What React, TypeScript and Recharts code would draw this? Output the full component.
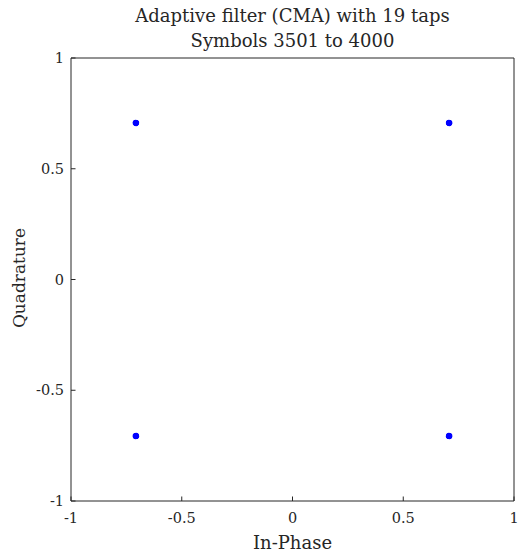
import { ScatterChart, Scatter, XAxis, YAxis, ReferenceLine } from 'recharts'

// received symbols after equalisation, grouped by constellation point
const inPhase = [
  -0.707, -0.709, -0.705, -0.708, -0.706,
  0.707, 0.709, 0.705, 0.708, 0.706,
  -0.707, -0.708, -0.706, -0.709, -0.705,
  0.707, 0.706, 0.708, 0.705, 0.709,
]
const quadrature = [
  0.707, 0.706, 0.708, 0.709, 0.705,
  0.707, 0.708, 0.706, 0.705, 0.709,
  -0.707, -0.709, -0.705, -0.706, -0.708,
  -0.707, -0.705, -0.709, -0.708, -0.706,
]
const ticks = [-1, -0.5, 0, 0.5, 1]

const points = inPhase.map((x, i) => ({ x, y: quadrature[i] }))

const INK = '#262626'
const FONT = 'DejaVu Serif'
const TICK_LEN = 4.5

const fmt = (v: number) => String(v)

function BottomTick({ x, y, payload }: any) {
  return (
    <g>
      <line x1={x} x2={x} y1={y} y2={y - TICK_LEN} stroke={INK} />
      <text x={x} y={y + 22} textAnchor="middle" fill={INK} fontSize={14.5} fontFamily={FONT}>
        {fmt(payload.value)}
      </text>
    </g>
  )
}

function LeftTick({ x, y, payload }: any) {
  return (
    <g>
      <line x1={x} x2={x + TICK_LEN} y1={y} y2={y} stroke={INK} />
      <text x={x - 7} y={y + 5} textAnchor="end" fill={INK} fontSize={14.5} fontFamily={FONT}>
        {fmt(payload.value)}
      </text>
    </g>
  )
}

const Dot = ({ cx, cy }: any) => <circle cx={cx} cy={cy} r={2.8} fill="#0000ff" />

export default function App() {
  return (
    <div style={{ position: 'absolute', left: 0, top: 0, width: 519, height: 552, background: '#fff' }}>
      <div style={{ position: 'absolute', left: 71, width: 443, top: 3, textAlign: 'center', fontFamily: FONT, fontSize: 18, lineHeight: '25px', color: INK }}>
        Adaptive filter (CMA) with 19 taps
        <br />
        Symbols 3501 to 4000
      </div>
      <div style={{ position: 'absolute', left: 71, width: 443, top: 532, textAlign: 'center', fontFamily: FONT, fontSize: 18, color: INK }}>
        In-Phase
      </div>
      <div style={{ position: 'absolute', left: 19, top: 278, transform: 'translate(-50%, -50%) rotate(-90deg)', fontFamily: FONT, fontSize: 17, color: INK, whiteSpace: 'nowrap' }}>
        Quadrature
      </div>
      <ScatterChart width={519} height={552} margin={{ top: 58, right: 5, bottom: 21, left: 11 }}>
        <XAxis type="number" dataKey="x" domain={[-1, 1]} ticks={ticks} height={30}
          axisLine={{ stroke: INK }} tickLine={false} tickSize={0} tickMargin={0} tick={<BottomTick />} />
        <YAxis type="number" dataKey="y" domain={[-1, 1]} ticks={ticks} width={60}
          axisLine={{ stroke: INK }} tickLine={false} tickSize={0} tickMargin={0} tick={<LeftTick />} />
        <ReferenceLine x={1} stroke={INK} ifOverflow="visible" />
        <ReferenceLine y={1} stroke={INK} ifOverflow="visible" />
        <Scatter data={points} fill="#0000ff" shape={<Dot />} isAnimationActive={false} />
      </ScatterChart>
    </div>
  )
}
